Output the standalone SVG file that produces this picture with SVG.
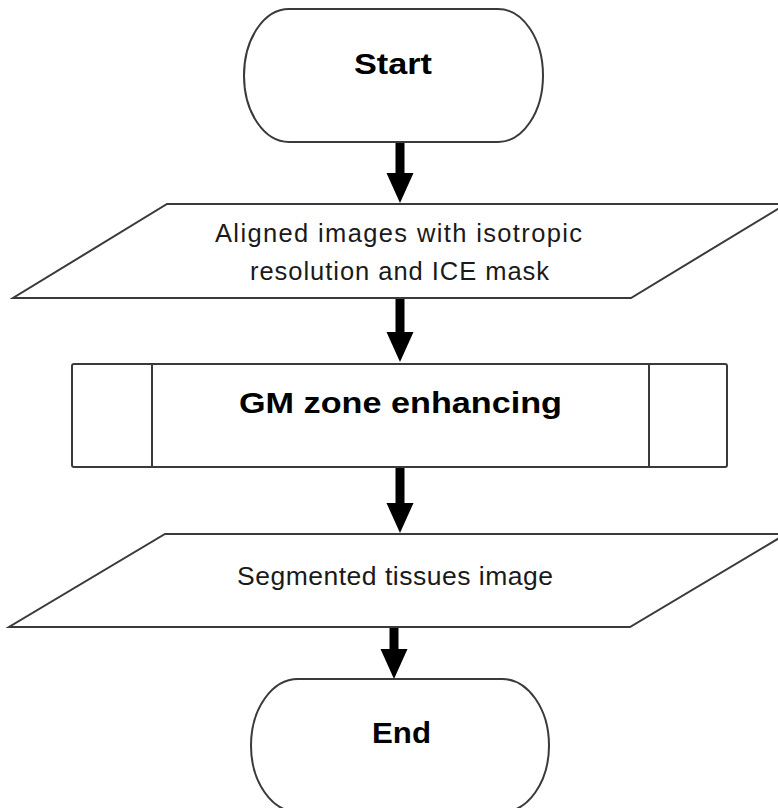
<svg xmlns="http://www.w3.org/2000/svg" width="778" height="808" viewBox="0 0 778 808">
  <style>
    .shape { fill: #ffffff; stroke: #3a3a3a; stroke-width: 2; }
    .inner { fill: none; stroke: #3a3a3a; stroke-width: 2; }
    .lbl { font-family: "Liberation Sans", Arial, sans-serif; fill: #1a1a1a; text-anchor: middle; }
    .bold { font-weight: bold; font-size: 30px; fill: #000000; }
    .reg { font-size: 25.5px; }
    .conn { stroke: #000000; stroke-width: 9; fill: none; }
  </style>
  <defs>
    <marker id="head" markerUnits="userSpaceOnUse" markerWidth="30" markerHeight="27" refX="0" refY="13.5" orient="auto" overflow="visible">
      <path d="M0,0 L30,13.5 L0,27 Z" fill="#000000"/>
    </marker>
  </defs>
  <rect width="778" height="808" fill="#ffffff"/>

  <g id="connectors">
    <line class="conn" x1="400" y1="142" x2="400" y2="173" marker-end="url(#head)"/>
    <line class="conn" x1="400" y1="298" x2="400" y2="332" marker-end="url(#head)"/>
    <line class="conn" x1="400" y1="467" x2="400" y2="503" marker-end="url(#head)"/>
    <line class="conn" x1="394" y1="627" x2="394" y2="649" marker-end="url(#head)"/>
  </g>

  <g id="start">
    <rect class="shape" x="244" y="9" width="299" height="133" rx="45" ry="66.5"/>
    <text class="lbl bold" x="393" y="74" textLength="78" lengthAdjust="spacingAndGlyphs">Start</text>
  </g>

  <g id="input-aligned">
    <polygon class="shape" points="167,204 786,204 631,298 13,298"/>
    <text class="lbl reg" x="398.5" y="242" textLength="367" lengthAdjust="spacing">Aligned images with isotropic</text>
    <text class="lbl reg" x="399.5" y="280" textLength="299" lengthAdjust="spacing">resolution and ICE mask</text>
  </g>

  <g id="gm-zone">
    <rect class="shape" x="72" y="364" width="655" height="103" rx="2"/>
    <line class="inner" x1="152" y1="364" x2="152" y2="467"/>
    <line class="inner" x1="649" y1="364" x2="649" y2="467"/>
    <text class="lbl bold" x="400.5" y="413" textLength="323" lengthAdjust="spacingAndGlyphs">GM zone enhancing</text>
  </g>

  <g id="output-segmented">
    <polygon class="shape" points="165,534 786,534 630,627 9,627"/>
    <text class="lbl reg" x="395" y="585" style="font-size:26.5px" textLength="316" lengthAdjust="spacing">Segmented tissues image</text>
  </g>

  <g id="end">
    <rect class="shape" x="251" y="679" width="298" height="133" rx="47" ry="66.5"/>
    <text class="lbl bold" x="401.5" y="743" textLength="59" lengthAdjust="spacingAndGlyphs">End</text>
  </g>
</svg>
